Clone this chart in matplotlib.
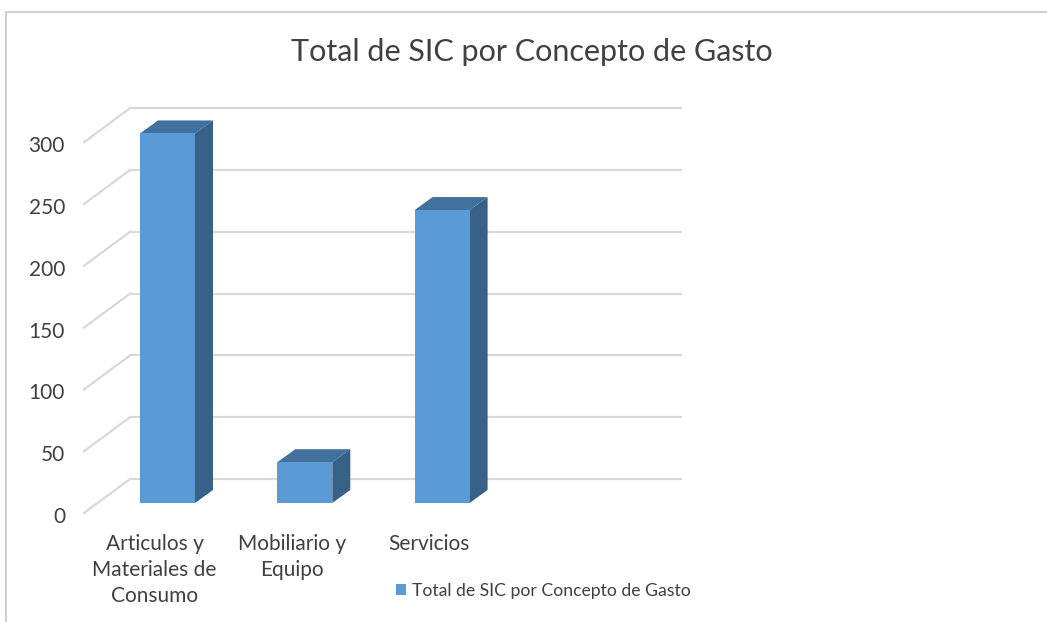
import numpy as np
import matplotlib.pyplot as plt
from matplotlib.patches import Polygon
from matplotlib.lines import Line2D

categorias = ['Articulos y\nMateriales de\nConsumo', 'Mobiliario y\nEquipo', 'Servicios']
valores = [299, 33, 237]
ticks = [0, 50, 100, 150, 200, 250, 300]
titulo = 'Total de SIC por Concepto de Gasto'

plt.rcParams['font.family'] = ['Lato', 'DejaVu Sans']

W, H = 1047, 622
fig = plt.figure(figsize=(W / 100, H / 100), dpi=100)

# pixel box of the axes, data = category units / value units
px0, px1, py0, py1 = 60, 700, 90, 540
x_per = 137.3
y_per = 1.236
cx0 = 167.5
base_py = 503
ax = fig.add_axes([px0 / W, 1 - py1 / H, (px1 - px0) / W, (py1 - py0) / H])
ax.set_xlim((px0 - cx0) / x_per, (px1 - cx0) / x_per)
ax.set_ylim((base_py - py1) / y_per, (base_py - py0) / y_per)
ax.axis('off')

grid_c = '#D9D9D9'
# back wall and side wall
wall_x0, wall_x1 = (130 - cx0) / x_per, (681 - cx0) / x_per
wall_dy = 24 / y_per
front_x = (84 - cx0) / x_per
front_dy = -10 / y_per
for v in ticks:
    ax.plot([wall_x0, wall_x1], [v + wall_dy, v + wall_dy], color=grid_c, lw=1.6, zorder=1)
    ax.plot([front_x, wall_x0], [v + front_dy, v + wall_dy], color=grid_c, lw=1.6, zorder=1)
    ax.text((65 - cx0) / x_per, v - 14 / y_per, str(v), ha='right', va='center',
            fontsize=15, color='#404040')

# bars
x = np.arange(len(valores))
w = 55 / x_per
ddx = 18 / x_per
ddy = 13 / y_per
bars = ax.bar(x, valores, width=w, color='#5B9BD5', zorder=3, label=titulo)
for xi, v in zip(x, valores):
    top = [(xi - w / 2, v), (xi + w / 2, v), (xi + w / 2 + ddx, v + ddy), (xi - w / 2 + ddx, v + ddy)]
    side = [(xi + w / 2, 0), (xi + w / 2, v), (xi + w / 2 + ddx, v + ddy), (xi + w / 2 + ddx, ddy)]
    ax.add_patch(Polygon(top, closed=True, facecolor='#41719C', edgecolor='none', zorder=2.9))
    ax.add_patch(Polygon(side, closed=True, facecolor='#386187', edgecolor='none', zorder=2.9))

for xi, lab in zip(x, categorias):
    ax.text(xi - 13 / x_per, (base_py - 534) / y_per, lab, ha='center', va='top',
            fontsize=15, color='#404040', linespacing=1.36)

fig.text(532 / W, 1 - 52 / H, titulo, ha='center', va='center', fontsize=22, color='#404040')

fig.legend(handles=[bars], labels=[titulo], loc='center left',
           bbox_to_anchor=(380 / W, 1 - 591 / H), frameon=False, fontsize=12.7,
           handlelength=0.6, handleheight=0.6, handletextpad=0.3, labelcolor='#404040')

# chart frame
fig.add_artist(Line2D([6 / W, 1], [1 - 12 / H, 1 - 12 / H], color='#D0D0D0', lw=1.5))
fig.add_artist(Line2D([6 / W, 6 / W], [0, 1 - 12 / H], color='#D0D0D0', lw=1.5))

fig.savefig('out.png', dpi=100, facecolor='white')
